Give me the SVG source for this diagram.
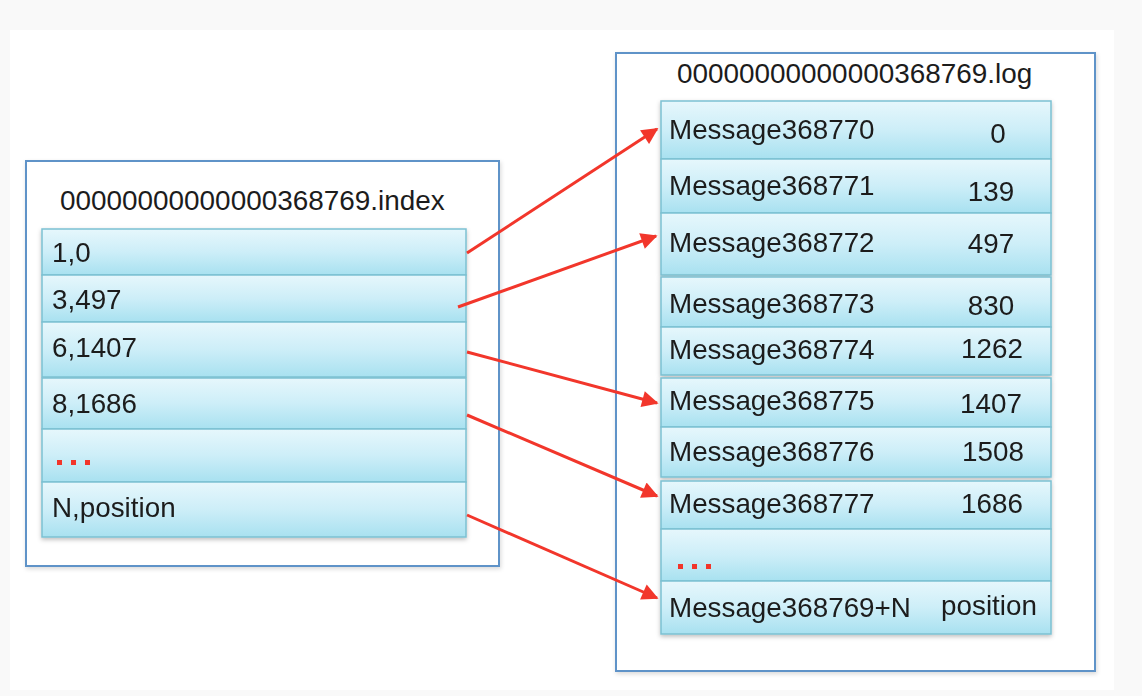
<svg xmlns="http://www.w3.org/2000/svg" width="1142" height="696" viewBox="0 0 1142 696">
  <defs>
    <linearGradient id="cell" x1="0" y1="0" x2="0" y2="1">
      <stop offset="0" stop-color="#e6f7fc"/>
      <stop offset="0.5" stop-color="#cdeef8"/>
      <stop offset="1" stop-color="#a8e1f0"/>
    </linearGradient>
    <filter id="sh" x="-5%" y="-5%" width="110%" height="115%">
      <feDropShadow dx="0" dy="2" stdDeviation="2" flood-color="#000" flood-opacity="0.25"/>
    </filter>
    <filter id="boxsh" x="-5%" y="-5%" width="110%" height="110%">
      <feDropShadow dx="1" dy="2" stdDeviation="2" flood-color="#000" flood-opacity="0.15"/>
    </filter>
    <marker id="ah" viewBox="0 0 10 10" refX="9" refY="5" markerWidth="6.5" markerHeight="5.5" markerUnits="strokeWidth" orient="auto">
      <path d="M0,0 L10,5 L0,10 z" fill="#f2362b"/>
    </marker>
    <style>
      .frame { fill: #ffffff; stroke: #5f93c8; stroke-width: 2; }
      .cell { fill: url(#cell); stroke: #7cc1d2; stroke-width: 1.5; }
      .t { font-family: "Liberation Sans", Arial, sans-serif; font-size: 27.8px; fill: #1c1c1c; }
      .title { font-family: "Liberation Sans", Arial, sans-serif; font-size: 27.9px; fill: #1c1c1c; }
      .num { text-anchor: middle; }
      .dots { fill: #f2362b; }
      .arrow { stroke: #f2362b; stroke-width: 3; fill: none; marker-end: url(#ah); }
    </style>
  </defs>

  <rect x="0" y="0" width="1142" height="696" fill="#f9f9f9"/>
  <rect x="10" y="30" width="1104" height="660" fill="#ffffff"/>

  <g id="index-file">
    <rect class="frame" x="26" y="161" width="473" height="405" filter="url(#boxsh)"/>
    <text class="title" x="60" y="210">00000000000000368769.index</text>
    <g filter="url(#sh)">
      <g id="idx-1">
        <rect class="cell" x="42" y="229" width="424" height="46"/>
        <text class="t" x="52" y="262">1,0</text>
      </g>
      <g id="idx-3">
        <rect class="cell" x="42" y="275" width="424" height="47"/>
        <text class="t" x="52" y="309">3,497</text>
      </g>
      <g id="idx-6">
        <rect class="cell" x="42" y="322" width="424" height="55"/>
        <text class="t" x="52" y="357">6,1407</text>
      </g>
      <g id="idx-8">
        <rect class="cell" x="42" y="378" width="424" height="51"/>
        <text class="t" x="52" y="413">8,1686</text>
      </g>
      <g id="idx-dots">
        <rect class="cell" x="42" y="429" width="424" height="53"/>
        <rect class="dots" x="57" y="460" width="5" height="5"/>
        <rect class="dots" x="71" y="460" width="5" height="5"/>
        <rect class="dots" x="85" y="460" width="5" height="5"/>
      </g>
      <g id="idx-n">
        <rect class="cell" x="42" y="482" width="424" height="55"/>
        <text class="t" x="52" y="517">N,position</text>
      </g>
    </g>
  </g>

  <g id="log-file">
    <rect class="frame" x="616" y="53" width="479" height="618" filter="url(#boxsh)"/>
    <text class="title" x="677" y="83">00000000000000368769.log</text>
    <g filter="url(#sh)">
      <g id="msg-770">
        <rect class="cell" x="661" y="101" width="390" height="58"/>
        <text class="t" x="669" y="139">Message368770</text>
        <text class="t num" x="998" y="143">0</text>
      </g>
      <g id="msg-771">
        <rect class="cell" x="661" y="159" width="390" height="54"/>
        <text class="t" x="669" y="195">Message368771</text>
        <text class="t num" x="991" y="201">139</text>
      </g>
      <g id="msg-772">
        <rect class="cell" x="661" y="213" width="390" height="62"/>
        <text class="t" x="669" y="252">Message368772</text>
        <text class="t num" x="991" y="253">497</text>
      </g>
    </g>
    <g filter="url(#sh)">
      <g id="msg-773">
        <rect class="cell" x="661" y="277" width="390" height="50"/>
        <text class="t" x="669" y="313">Message368773</text>
        <text class="t num" x="991" y="315">830</text>
      </g>
      <g id="msg-774">
        <rect class="cell" x="661" y="327" width="390" height="48"/>
        <text class="t" x="669" y="359">Message368774</text>
        <text class="t num" x="992" y="358">1262</text>
      </g>
    </g>
    <g filter="url(#sh)">
      <g id="msg-775">
        <rect class="cell" x="661" y="378" width="390" height="49"/>
        <text class="t" x="669" y="410">Message368775</text>
        <text class="t num" x="991" y="413">1407</text>
      </g>
      <g id="msg-776">
        <rect class="cell" x="661" y="427" width="390" height="50"/>
        <text class="t" x="669" y="461">Message368776</text>
        <text class="t num" x="993" y="461">1508</text>
      </g>
    </g>
    <g filter="url(#sh)">
      <g id="msg-777">
        <rect class="cell" x="661" y="481" width="390" height="48"/>
        <text class="t" x="669" y="513">Message368777</text>
        <text class="t num" x="992" y="513">1686</text>
      </g>
      <g id="msg-dots">
        <rect class="cell" x="661" y="529" width="390" height="52"/>
        <rect class="dots" x="678" y="564" width="5" height="5"/>
        <rect class="dots" x="692" y="564" width="5" height="5"/>
        <rect class="dots" x="706" y="564" width="5" height="5"/>
      </g>
      <g id="msg-n">
        <rect class="cell" x="661" y="581" width="390" height="53"/>
        <text class="t" x="669" y="617">Message368769+N</text>
        <text class="t num" x="989" y="615">position</text>
      </g>
    </g>
  </g>

  <g id="connectors">
    <line class="arrow" x1="467" y1="253" x2="657" y2="129"/>
    <line class="arrow" x1="458" y1="307" x2="656" y2="236"/>
    <line class="arrow" x1="467" y1="352" x2="657" y2="403"/>
    <line class="arrow" x1="467" y1="415" x2="657" y2="496"/>
    <line class="arrow" x1="467" y1="515" x2="657" y2="598"/>
  </g>
</svg>
